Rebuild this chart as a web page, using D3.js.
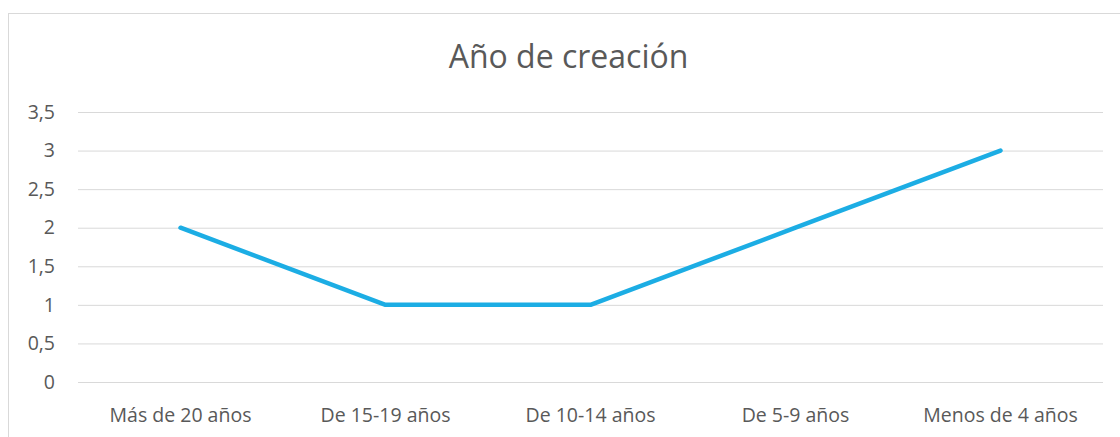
<!DOCTYPE html>
<html><head><meta charset="utf-8">
<script src="https://cdn.jsdelivr.net/npm/d3@7"></script>
<style>body{margin:0;background:#fff}svg{display:block}</style>
</head><body>
<svg id="c" width="1120" height="437"></svg>
<script>
const categories = ["Más de 20 años","De 15-19 años","De 10-14 años","De 5-9 años","Menos de 4 años"];
const values = [2,1,1,2,3];
const yTicks = [0,0.5,1,1.5,2,2.5,3,3.5];
const title = "Año de creación";

const svg = d3.select("#c");
const font = "'Open Sans', sans-serif";
const m = {left:78, right:1103, top:112, bottom:382};

svg.append("rect").attr("x",8.5).attr("y",13.5).attr("width",1130).attr("height",440)
  .attr("fill","#fff").attr("stroke","#d9d9d9").attr("stroke-width",1);

const x = d3.scaleBand().domain(categories).range([m.left,m.right]);
const y = d3.scaleLinear().domain([0,3.5]).range([m.bottom,m.top]);

const fmt = d => String(d).replace(".", ",");

const ga = svg.append("g").attr("transform",`translate(${m.left},0)`)
  .call(d3.axisLeft(y).tickValues(yTicks).tickSize(-(m.right-m.left)).tickPadding(23).tickFormat(fmt));
ga.select(".domain").remove();
ga.selectAll(".tick line").attr("stroke","#d9d9d9").attr("stroke-width",1);
ga.selectAll(".tick text").attr("fill","#595959").style("font-family",font).style("font-size","19.5px");

const gx = svg.append("g").attr("transform",`translate(0,${m.bottom})`)
  .call(d3.axisBottom(x).tickSize(0).tickPadding(26));
gx.select(".domain").remove();
gx.selectAll(".tick text").attr("fill","#595959").style("font-family",font).style("font-size","19.5px");

const line = d3.line().x((d,i)=>x(categories[i])+x.bandwidth()/2).y(d=>y(d));
svg.append("path").datum(values).attr("d",line).attr("fill","none")
  .attr("stroke","#1CADE4").attr("stroke-width",4.5).attr("stroke-linecap","round").attr("stroke-linejoin","round");

svg.append("text").attr("x",568.5).attr("y",68).attr("text-anchor","middle")
  .attr("fill","#595959").style("font-family",font).style("font-size","32px").text(title);
</script>
</body></html>
